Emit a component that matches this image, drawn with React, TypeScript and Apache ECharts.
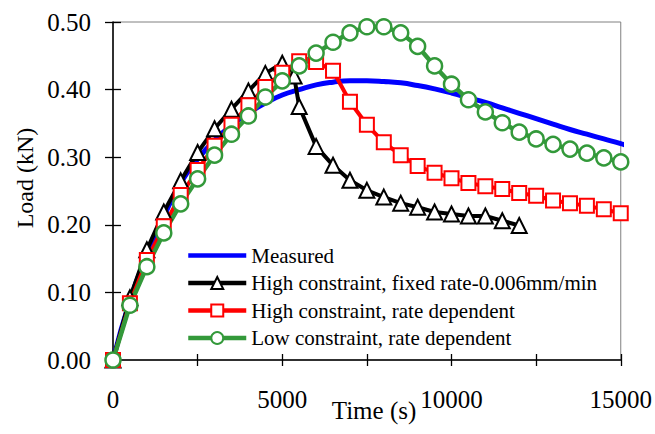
import React, { useEffect, useRef } from "react";
import * as echarts from "echarts";

const FONT = "Liberation Serif";

const seriesNames = [
  "Measured",
  "High constraint, fixed rate-0.006mm/min",
  "High constraint, rate dependent",
  "Low constraint, rate dependent",
];

const measuredTimes = [
  0, 500, 1000, 1500, 2000, 2500, 3000, 3500, 4000, 4500, 5000, 5500, 6000, 6500, 7000, 7500,
  8000, 8500, 9000, 9500, 10000, 10500, 11000, 11500, 12000, 12500, 13000, 13500, 14000, 14500,
  15000, 15250,
];
const measuredValues = [
  0, 0.088, 0.155, 0.212, 0.262, 0.297, 0.325, 0.347, 0.365, 0.38, 0.392, 0.4, 0.407, 0.411,
  0.413, 0.413, 0.412, 0.41, 0.406, 0.401, 0.395, 0.388, 0.381, 0.373, 0.365, 0.357, 0.349,
  0.341, 0.334, 0.327, 0.32, 0.316,
];

const fixedRateTimes = [
  0, 500, 1000, 1500, 2000, 2500, 3000, 3500, 4000, 4500, 5000, 5350, 5500, 6000, 6500, 7000,
  7500, 8000, 8500, 9000, 9500, 10000, 10500, 11000, 11500, 12000,
];
const fixedRateValues = [
  0, 0.092, 0.163, 0.219, 0.265, 0.307, 0.342, 0.371, 0.398, 0.424, 0.439, 0.42, 0.375, 0.316,
  0.288, 0.266, 0.251, 0.241, 0.232, 0.226, 0.219, 0.216, 0.213, 0.213, 0.206, 0.199,
];

const rateTimes = [
  0, 500, 1000, 1500, 2000, 2500, 3000, 3500, 4000, 4500, 5000, 5500, 6000, 6500, 7000, 7500,
  8000, 8500, 9000, 9500, 10000, 10500, 11000, 11500, 12000, 12500, 13000, 13500, 14000, 14500,
  15000,
];
const highRateValues = [
  0, 0.084, 0.148, 0.198, 0.244, 0.281, 0.317, 0.348, 0.377, 0.404, 0.425, 0.442, 0.441, 0.428,
  0.382, 0.348, 0.322, 0.303, 0.287, 0.277, 0.269, 0.262, 0.257, 0.253, 0.247, 0.243, 0.236,
  0.232, 0.228, 0.223, 0.217,
];
const lowRateValues = [
  0, 0.081, 0.138, 0.188, 0.231, 0.268, 0.303, 0.334, 0.361, 0.389, 0.413, 0.435, 0.454, 0.47,
  0.484, 0.493, 0.493, 0.484, 0.464, 0.435, 0.408, 0.385, 0.367, 0.351, 0.337, 0.327, 0.319,
  0.312, 0.306, 0.299, 0.293,
];

const zip = (xs: number[], ys: number[]) => xs.map((x, i) => [x, ys[i]]);

export default function App() {
  const ref = useRef<HTMLDivElement>(null);

  useEffect(() => {
    if (!ref.current) return;
    const chart = echarts.init(ref.current, null, { renderer: "svg" });

    const xBase = {
      type: "value" as const,
      min: 0,
      max: 15000,
      interval: 2500,
      position: "bottom" as const,
      splitLine: { show: false },
    };
    const yBase = {
      type: "value" as const,
      min: 0,
      max: 0.5,
      interval: 0.1,
      position: "left" as const,
      splitLine: { show: false },
    };

    chart.setOption({
      animation: false,
      backgroundColor: "#ffffff",
      textStyle: { fontFamily: FONT },
      grid: {
        left: 113,
        right: 33,
        top: 22,
        bottom: 74,
        show: true,
        borderColor: "#808080",
        borderWidth: 1,
        backgroundColor: "transparent",
      },
      xAxis: [
        {
          ...xBase,
          axisLine: { show: true, onZero: false, lineStyle: { color: "#000", width: 1.5 } },
          axisTick: { show: true, inside: false, length: 6, lineStyle: { color: "#000", width: 1.3 } },
          axisLabel: {
            formatter: (v: number) => (v % 5000 === 0 ? String(v) : ""),
            fontSize: 25,
            fontFamily: FONT,
            color: "#000",
            margin: 27,
          },
        },
        {
          ...xBase,
          axisLine: { show: false },
          axisTick: { show: true, inside: true, length: 6, lineStyle: { color: "#000", width: 1.3 } },
          axisLabel: { show: false },
        },
      ],
      yAxis: [
        {
          ...yBase,
          axisLine: { show: true, onZero: false, lineStyle: { color: "#000", width: 1.5 } },
          axisTick: { show: true, inside: false, length: 8, lineStyle: { color: "#000", width: 1.3 } },
          axisLabel: {
            formatter: (v: number) => v.toFixed(2),
            fontSize: 25,
            fontFamily: FONT,
            color: "#000",
            margin: 22,
          },
        },
        {
          ...yBase,
          axisLine: { show: false },
          axisTick: { show: true, inside: true, length: 8, lineStyle: { color: "#000", width: 1.3 } },
          axisLabel: { show: false },
        },
      ],
      legend: {
        orient: "vertical",
        left: 186,
        top: 245,
        padding: 0,
        itemWidth: 58,
        itemHeight: 15,
        itemGap: 6.5,
        lineStyle: { width: 4.5 },
        data: [
          { name: seriesNames[0], itemStyle: { opacity: 0 } },
          seriesNames[1],
          seriesNames[2],
          seriesNames[3],
        ],
        textStyle: { fontSize: 21, fontFamily: FONT, color: "#000" },
      },
      graphic: [
        {
          type: "text",
          x: 374,
          y: 410,
          style: {
            text: "Time (s)",
            fontSize: 25,
            fontFamily: FONT,
            fill: "#000",
            align: "center",
            verticalAlign: "middle",
          },
        },
        {
          type: "text",
          x: 25,
          y: 178,
          rotation: Math.PI / 2,
          style: {
            text: "Load (kN)",
            fontSize: 24,
            fontFamily: FONT,
            fill: "#000",
            align: "center",
            verticalAlign: "middle",
          },
        },
      ],
      series: [
        {
          name: seriesNames[0],
          type: "line",
          data: zip(measuredTimes, measuredValues),
          smooth: true,
          symbol: "none",
          showSymbol: false,
          clip: false,
          lineStyle: { color: "#0000FF", width: 5 },
          itemStyle: { color: "#0000FF" },
        },
        {
          name: seriesNames[1],
          type: "line",
          data: zip(fixedRateTimes, fixedRateValues),
          symbol: "triangle",
          symbolSize: 15,
          lineStyle: { color: "#000000", width: 4 },
          itemStyle: { color: "#ffffff", borderColor: "#000000", borderWidth: 2 },
        },
        {
          name: seriesNames[2],
          type: "line",
          data: zip(rateTimes, highRateValues),
          symbol: "rect",
          symbolSize: 14,
          lineStyle: { color: "#FF0000", width: 4 },
          itemStyle: { color: "#ffffff", borderColor: "#FF0000", borderWidth: 2 },
        },
        {
          name: seriesNames[3],
          type: "line",
          data: zip(rateTimes, lowRateValues),
          symbol: "circle",
          symbolSize: 15,
          lineStyle: { color: "#33993A", width: 4.5 },
          itemStyle: { color: "#ffffff", borderColor: "#33993A", borderWidth: 2.5 },
        },
      ],
    });

    return () => chart.dispose();
  }, []);

  return (
    <div
      ref={ref}
      style={{ position: "fixed", left: 0, top: 0, width: 655, height: 434, background: "#fff" }}
    />
  );
}
